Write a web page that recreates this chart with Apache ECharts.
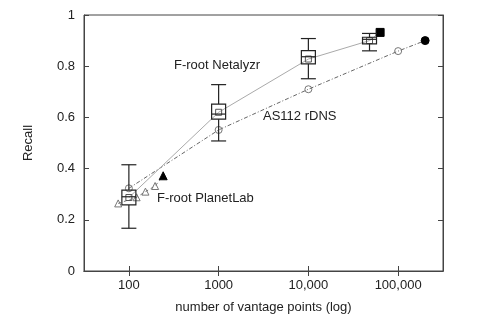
<!DOCTYPE html>
<html>
<head>
<meta charset="utf-8">
<script src="https://cdn.jsdelivr.net/npm/echarts@6/dist/echarts.min.js"></script>
<style>html,body{margin:0;padding:0;background:#fff}#c{width:480px;height:327px}</style>
</head>
<body>
<div id="c"></div>
<script>
// ---- data ----
var xTicks = [100, 1000, 10000, 100000];
var xTickLabels = ['100', '1000', '10,000', '100,000'];
var yTicks = [0, 0.2, 0.4, 0.6, 0.8, 1];

// F-root Netalyzr (box plots + mean)
var netX      = [100, 1000, 10000, 48000];
var netLow    = [0.167, 0.508, 0.751, 0.860];
var netQ1     = [0.258, 0.593, 0.809, 0.887];
var netMedian = [0.290, 0.613, 0.837, 0.905];
var netQ3     = [0.316, 0.652, 0.861, 0.913];
var netHigh   = [0.415, 0.728, 0.908, 0.928];
var netMean   = [0.287, 0.620, 0.828, 0.900];
var netFullX = 63000, netFullY = 0.932;

// AS112 rDNS
var asX = [100, 1000, 10000, 100000];
var asY = [0.323, 0.551, 0.710, 0.859];
var asFullX = 200000, asFullY = 0.900;

// F-root PlanetLab
var plX = [76, 122, 153, 196];
var plY = [0.264, 0.288, 0.310, 0.332];
var plFullX = 241, plFullY = 0.372;

// ---- build ----
var L = Math.log10;
var tickPos = xTicks.map(L);
var labelMap = {};
tickPos.forEach(function (p, i) { labelMap[p.toFixed(3)] = xTickLabels[i]; });

function lineData(xs, ys, fx, fy) {
  var d = xs.map(function (x, i) { return [L(x), ys[i]]; });
  d.push({ value: [L(fx), fy], symbolSize: 8, itemStyle: { color: '#000', borderColor: '#000' } });
  return d;
}
var boxData = netX.map(function (x, i) {
  return [L(x), netLow[i], netQ1[i], netMedian[i], netQ3[i], netHigh[i]];
});
var BOX_W = 14, CAP_W = 15;
var font = 'Liberation Sans, Arial, Helvetica, sans-serif';
var textColor = '#222';

var chart = echarts.init(document.getElementById('c'));
chart.setOption({
  animation: false,
  backgroundColor: '#fff',
  grid: { left: 84, right: 37, top: 15, bottom: 56, show: true, borderColor: '#444', borderWidth: 1 },
  xAxis: [{
    type: 'value', min: 1.5, max: 5.5, interval: 0.5,
    axisLine: { show: true, lineStyle: { color: '#444' } },
    axisTick: { show: true, inside: true, length: 5, customValues: tickPos, lineStyle: { color: '#444' } },
    axisLabel: { customValues: tickPos, margin: 8, fontSize: 13, fontFamily: font, color: textColor,
      formatter: function (v) { return labelMap[v.toFixed(3)] || ''; } },
    splitLine: { show: false },
    name: 'number of vantage points (log)', nameLocation: 'middle', nameGap: 30,
    nameTextStyle: { fontSize: 13, fontFamily: font, color: textColor }
  }, {
    type: 'value', min: 1.5, max: 5.5, interval: 0.5, position: 'top',
    axisLine: { show: true, lineStyle: { color: '#444' } },
    axisTick: { show: true, inside: true, length: 5, customValues: tickPos, lineStyle: { color: '#444' } },
    axisLabel: { show: false }, splitLine: { show: false }
  }],
  yAxis: [{
    type: 'value', min: 0, max: 1, interval: 0.2,
    axisLine: { show: true, lineStyle: { color: '#444' } },
    axisTick: { show: true, inside: true, length: 5, lineStyle: { color: '#444' } },
    axisLabel: { margin: 9, fontSize: 13, fontFamily: font, color: textColor,
      formatter: function (v) { return (v === 0 || v === 1) ? String(v) : v.toFixed(1); } },
    splitLine: { show: false },
    name: 'Recall', nameLocation: 'middle', nameGap: 49,
    nameTextStyle: { fontSize: 13, fontFamily: font, color: textColor }
  }, {
    type: 'value', min: 0, max: 1, interval: 0.2, position: 'right',
    axisLine: { show: true, lineStyle: { color: '#444' } },
    axisTick: { show: true, inside: true, length: 5, lineStyle: { color: '#444' } },
    axisLabel: { show: false }, splitLine: { show: false }
  }],
  series: [{
    name: 'AS112 rDNS', type: 'line', data: lineData(asX, asY, asFullX, asFullY),
    symbol: 'circle', symbolSize: 7, showSymbol: true,
    itemStyle: { color: 'rgba(255,255,255,0)', borderColor: '#777', borderWidth: 1 },
    lineStyle: { color: '#666', width: 1, type: [4, 2, 1, 2] }, z: 3
  }, {
    name: 'F-root PlanetLab', type: 'line', data: lineData(plX, plY, plFullX, plFullY),
    symbol: 'triangle', symbolSize: 7, showSymbol: true,
    itemStyle: { color: 'rgba(255,255,255,0)', borderColor: '#777', borderWidth: 1 },
    lineStyle: { color: '#777', width: 1, type: [3, 3] }, z: 3
  }, {
    name: 'F-root Netalyzr', type: 'line',
    data: lineData(netX, netMean, netFullX, netFullY),
    symbol: 'rect', symbolSize: 6, showSymbol: true,
    itemStyle: { color: 'rgba(255,255,255,0)', borderColor: '#555', borderWidth: 1 },
    lineStyle: { color: '#aaa', width: 1 }, z: 4
  }, {
    name: 'box', type: 'custom', data: boxData, z: 5,
    renderItem: function (params, api) {
      var x = api.value(0);
      var pLow = api.coord([x, api.value(1)]);
      var pQ1 = api.coord([x, api.value(2)]);
      var pMed = api.coord([x, api.value(3)]);
      var pQ3 = api.coord([x, api.value(4)]);
      var pHigh = api.coord([x, api.value(5)]);
      var cx = pLow[0], hw = BOX_W / 2, cw = CAP_W / 2;
      var st = { stroke: '#222', lineWidth: 1.2, fill: null };
      return { type: 'group', children: [
        { type: 'line', shape: { x1: cx, y1: pLow[1], x2: cx, y2: pQ1[1] }, style: st },
        { type: 'line', shape: { x1: cx, y1: pQ3[1], x2: cx, y2: pHigh[1] }, style: st },
        { type: 'line', shape: { x1: cx - cw, y1: pLow[1], x2: cx + cw, y2: pLow[1] }, style: st },
        { type: 'line', shape: { x1: cx - cw, y1: pHigh[1], x2: cx + cw, y2: pHigh[1] }, style: st },
        { type: 'rect', shape: { x: cx - hw, y: pQ3[1], width: 2 * hw, height: pQ1[1] - pQ3[1] }, style: st },
        { type: 'line', shape: { x1: cx - hw, y1: pMed[1], x2: cx + hw, y2: pMed[1] }, style: st }
      ] };
    }
  }],
  graphic: [
    { type: 'text', left: 174, top: 59, style: { text: 'F-root Netalyzr', font: '13px ' + font, fill: textColor } },
    { type: 'text', left: 263, top: 110, style: { text: 'AS112 rDNS', font: '13px ' + font, fill: textColor } },
    { type: 'text', left: 157, top: 192, style: { text: 'F-root PlanetLab', font: '13px ' + font, fill: textColor } }
  ]
});
</script>
</body>
</html>
